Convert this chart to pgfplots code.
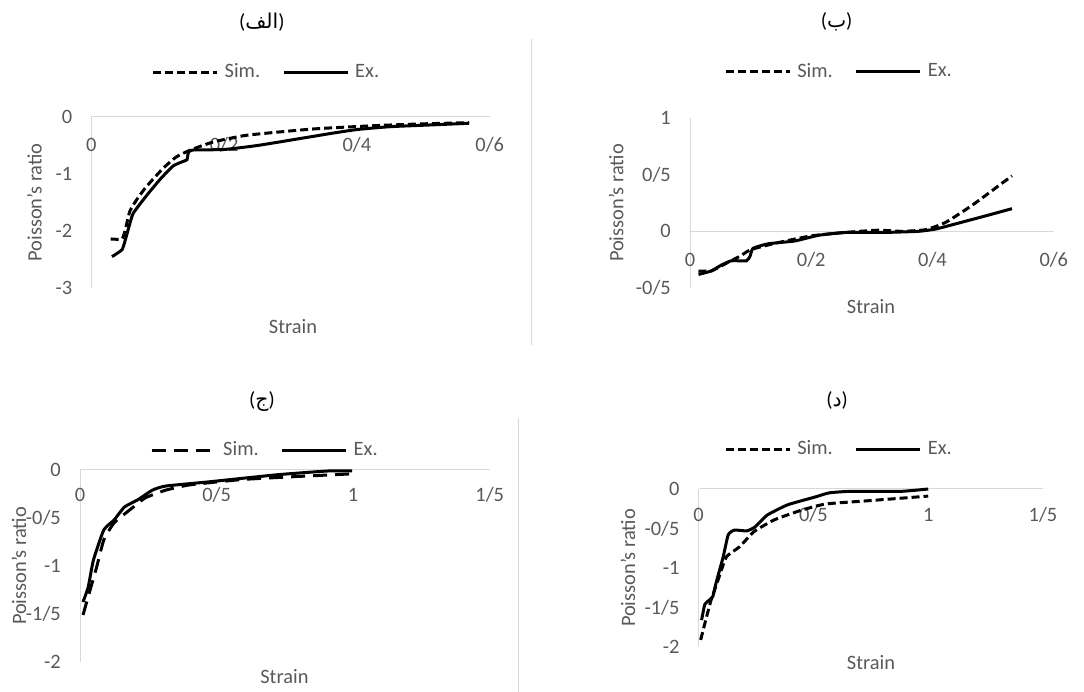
\documentclass[border=0pt]{standalone}
\usepackage{fontspec}
\setmainfont{Carlito}
\newfontfamily\arabicfont[Script=Arabic]{DejaVu Sans}
\TeXXeTstate=1
\usepackage{pgfplots}
\pgfplotsset{compat=1.18}

\definecolor{txtgray}{HTML}{595959}
\definecolor{axgray}{HTML}{D9D9D9}

\pgfplotsset{
  panel/.style={
    scale only axis, clip=false,
    axis x line*=middle, axis y line*=left,
    hide obscured x ticks=false, hide obscured y ticks=false,
    axis line style={draw=axgray, line width=1bp},
    major tick length=0pt, tick style={draw=none},
    tick label style={text=txtgray, inner sep=0pt},
    xticklabel style={anchor=base},
    yticklabel style={anchor=east, xshift=-19bp},
    label style={text=txtgray},
    xlabel={Strain}, ylabel={Poisson's ratio},
    xlabel style={anchor=center}, ylabel style={anchor=center},
    title style={anchor=center, text=black, font=\fontsize{20.5}{24}\selectfont},
    legend columns=2,
    legend style={draw=none, fill=none, anchor=center, inner sep=0pt,
      column sep=0pt, nodes={inner sep=0pt, text=txtgray},
      /tikz/every odd column/.append style={column sep=6bp},
      /tikz/every even column/.append style={column sep=22bp}},
    legend image code/.code={\draw[##1] (0bp,0bp) -- (64bp,0bp);},
  },
  ex/.style={black, line width=3bp, smooth, tension=0.3},
  sim/.style={black, line width=3bp, smooth, tension=0.3, dash pattern=on 8bp off 4bp},
}

\begin{document}
\fontsize{20.5}{24}\selectfont
\begin{tikzpicture}
\path[use as bounding box] (0,0) rectangle (1084bp,692bp);
\draw[axgray, line width=1bp] (531bp,653bp) -- (531bp,347bp);
\draw[axgray, line width=1bp] (518bp,274bp) -- (518bp,0bp);

% (alef)
\begin{axis}[panel, at={(91.4bp,404bp)}, anchor=south west,
  width=398.3bp, height=171bp,
  xmin=0, xmax=0.6, ymin=-3, ymax=0,
  xtick={0,0.2,0.4,0.6}, xticklabels={0,0/2,0/4,0/6},
  ytick={-3,-2,-1,0}, yticklabels={-3,-2,-1,0},
  xticklabel style={yshift=-34.7bp},
  title={(\beginR{\arabicfont الف}\endR)},
  title style={at={(axis description cs:0.428,1.52)}},
  legend style={at={(0.437,1.263)}},
  xlabel style={at={(axis description cs:0.506,-0.228)}},
  ylabel style={at={(axis description cs:-0.143,0.5)}},
]
\addplot[sim] coordinates {(0.029,-2.14) (0.046,-2.14) (0.051,-1.98) (0.058,-1.65)
  (0.07,-1.42) (0.083,-1.22) (0.108,-0.90) (0.128,-0.70) (0.149,-0.58) (0.183,-0.44)
  (0.234,-0.32) (0.334,-0.21) (0.43,-0.15) (0.50,-0.12) (0.569,-0.10)};
\addlegendentry{Sim.}
\addplot[ex] coordinates {(0.031,-2.45) (0.046,-2.33) (0.051,-2.16) (0.056,-1.95)
  (0.063,-1.69) (0.083,-1.38) (0.103,-1.10) (0.123,-0.86) (0.138,-0.78) (0.144,-0.75)
  (0.146,-0.63) (0.152,-0.58) (0.2,-0.57) (0.25,-0.50) (0.303,-0.40) (0.36,-0.29)
  (0.40,-0.22) (0.45,-0.17) (0.51,-0.14) (0.569,-0.11)};
\addlegendentry{Ex.}
\end{axis}

% (be)
\begin{axis}[panel, at={(690bp,404bp)}, anchor=south west,
  width=363.8bp, height=170bp,
  xmin=0, xmax=0.6, ymin=-0.5, ymax=1,
  xtick={0,0.2,0.4,0.6}, xticklabels={0,0/2,0/4,0/6},
  ytick={-0.5,0,0.5,1}, yticklabels={-0/5,0,0/5,1},
  xticklabel style={yshift=-34.7bp},
  title={(\beginR{\arabicfont ب}\endR)},
  title style={at={(axis description cs:0.403,1.529)}},
  legend style={at={(0.407,1.271)}},
  xlabel style={at={(axis description cs:0.4975,-0.112)}},
  ylabel style={at={(axis description cs:-0.203,0.5)}},
]
\addplot[sim] coordinates {(0.014,-0.35) (0.035,-0.35) (0.057,-0.29) (0.082,-0.22)
  (0.101,-0.16) (0.145,-0.10) (0.2,-0.04) (0.256,-0.01) (0.31,0.01) (0.35,0.0)
  (0.389,0.015) (0.422,0.08) (0.468,0.24) (0.531,0.49)};
\addlegendentry{Sim.}
\addplot[ex] coordinates {(0.014,-0.38) (0.035,-0.35) (0.051,-0.30) (0.068,-0.26)
  (0.093,-0.26) (0.099,-0.22) (0.104,-0.15) (0.129,-0.11) (0.173,-0.085)
  (0.212,-0.035) (0.256,-0.01) (0.32,-0.01) (0.377,0) (0.405,0.02) (0.434,0.06)
  (0.49,0.14) (0.531,0.20)};
\addlegendentry{Ex.}
\end{axis}

% (jim)
\begin{axis}[panel, at={(80bp,30bp)}, anchor=south west,
  width=409.7bp, height=192bp,
  xmin=0, xmax=1.5, ymin=-2, ymax=0,
  xtick={0,0.5,1,1.5}, xticklabels={0,0/5,1,1/5},
  ytick={-2,-1.5,-1,-0.5,0}, yticklabels={-2,-1/5,-1,-0/5,0},
  xticklabel style={yshift=-31.7bp},
  title={(\beginR{\arabicfont ج}\endR)},
  title style={at={(axis description cs:0.444,1.323)}},
  legend style={at={(0.449,1.104)}},
  xlabel style={at={(axis description cs:0.499,-0.078)}},
  ylabel style={at={(axis description cs:-0.149,0.5)}},
]
\addplot[sim, dash pattern=on 14bp off 8bp] coordinates {(0.011,-1.51) (0.03,-1.32)
  (0.061,-1.01) (0.087,-0.73) (0.125,-0.55) (0.189,-0.40) (0.239,-0.29) (0.314,-0.21)
  (0.40,-0.156) (0.59,-0.10) (0.78,-0.07) (0.996,-0.04)};
\addlegendentry{Sim.}
\addplot[ex] coordinates {(0.011,-1.375) (0.03,-1.22) (0.049,-0.94) (0.087,-0.625)
  (0.125,-0.52) (0.163,-0.385) (0.212,-0.31) (0.265,-0.21) (0.314,-0.167)
  (0.466,-0.125) (0.72,-0.05) (0.909,-0.01) (0.996,-0.01)};
\addlegendentry{Ex.}
\end{axis}

% (dal)
\begin{axis}[panel, at={(698.6bp,45bp)}, anchor=south west,
  width=344.4bp, height=158bp,
  xmin=0, xmax=1.5, ymin=-2, ymax=0,
  xtick={0,0.5,1,1.5}, xticklabels={0,0/5,1,1/5},
  ytick={-2,-1.5,-1,-0.5,0}, yticklabels={-2,-1/5,-1,-0/5,0},
  xticklabel style={yshift=-32.7bp},
  title={(\beginR{\arabicfont د}\endR)},
  title style={at={(axis description cs:0.402,1.525)}},
  legend style={at={(0.405,1.253)}},
  xlabel style={at={(axis description cs:0.5006,-0.101)}},
  ylabel style={at={(axis description cs:-0.205,0.5)}},
]
\addplot[sim] coordinates {(0.009,-1.91) (0.031,-1.66) (0.054,-1.41) (0.085,-1.15)
  (0.121,-0.86) (0.179,-0.73) (0.241,-0.54) (0.33,-0.39) (0.446,-0.27) (0.553,-0.19)
  (0.732,-0.15) (1.0,-0.09)};
\addlegendentry{Sim.}
\addplot[ex] coordinates {(0.013,-1.66) (0.027,-1.46) (0.045,-1.41) (0.062,-1.36)
  (0.076,-1.19) (0.107,-0.86) (0.129,-0.58) (0.156,-0.52) (0.21,-0.53) (0.246,-0.48)
  (0.299,-0.33) (0.388,-0.2) (0.509,-0.10) (0.567,-0.05) (0.656,-0.03) (0.879,-0.03)
  (1.0,0)};
\addlegendentry{Ex.}
\end{axis}
\end{tikzpicture}
\end{document}
